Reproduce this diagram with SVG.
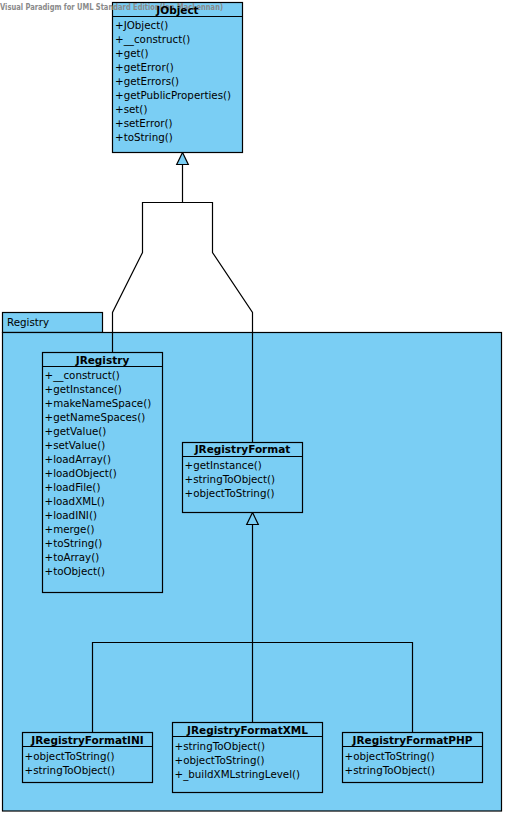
<svg xmlns="http://www.w3.org/2000/svg" width="506" height="816" viewBox="0 0 506 816">
<style>
.box{fill:#7ACEF4;stroke:#000;stroke-width:1.2}
.ln{fill:none;stroke:#000;stroke-width:1.2}
.t{font-family:"DejaVu Sans",sans-serif;font-size:10.3px;fill:#000}
.h{font-family:"DejaVu Sans",sans-serif;font-size:10.5px;font-weight:bold;fill:#000;text-anchor:middle}
.wm{font-family:"DejaVu Sans",sans-serif;font-size:8px;font-weight:bold;fill:#8a8a8a}
.pk{font-family:"DejaVu Sans",sans-serif;font-size:10.3px;fill:#000}
</style>
<defs>
<marker id="gen" markerWidth="14" markerHeight="14" refX="12" refY="6" orient="auto" markerUnits="userSpaceOnUse">
<path d="M12,6 L0,0 L0,12 Z" fill="#7ACEF4" stroke="#000" stroke-width="1.2"/>
</marker>
</defs>

<g id="pkg-registry">
<rect class="box" x="2.5" y="312.5" width="100" height="20"/>
<rect class="box" x="2.5" y="332.5" width="499" height="478.5"/>
<text class="pk" x="7" y="326">Registry</text>
</g>

<g id="connectors">
<polyline class="ln" points="112.5,352.5 112.5,312.5 142.5,252.5 142.5,202.5 182.5,202.5 182.5,164"/>
<polyline class="ln" points="252.5,442.5 252.5,312.5 212.5,252.5 212.5,202.5 182.5,202.5"/>
<path d="M182.5,152.5 L176.7,164.5 L188.3,164.5 Z" fill="#7ACEF4" stroke="#000" stroke-width="1.2"/>
<polyline class="ln" points="92.5,732.5 92.5,642.5 412.5,642.5 412.5,732.5"/>
<line class="ln" x1="252.5" y1="722.5" x2="252.5" y2="524.5"/>
<path d="M252.5,512.5 L246.7,524.5 L258.3,524.5 Z" fill="#7ACEF4" stroke="#000" stroke-width="1.2"/>
</g>

<g id="JObject">
<rect class="box" x="112.5" y="2.5" width="130" height="150"/>
<line class="ln" x1="112.5" y1="16.5" x2="242.5" y2="16.5"/>
<text class="wm" x="0" y="10" textLength="223" lengthAdjust="spacingAndGlyphs">Visual Paradigm for UML Standard Edition(Ian MacLennan)</text>
<text class="h" x="177.5" y="14">JObject</text>
<text class="t" x="115" y="29">+JObject()</text>
<text class="t" x="115" y="43">+__construct()</text>
<text class="t" x="115" y="57">+get()</text>
<text class="t" x="115" y="71">+getError()</text>
<text class="t" x="115" y="85">+getErrors()</text>
<text class="t" x="115" y="99">+getPublicProperties()</text>
<text class="t" x="115" y="113">+set()</text>
<text class="t" x="115" y="127">+setError()</text>
<text class="t" x="115" y="141">+toString()</text>
</g>

<g id="JRegistry">
<rect class="box" x="42.5" y="352.5" width="120" height="240"/>
<line class="ln" x1="42.5" y1="366.5" x2="162.5" y2="366.5"/>
<text class="h" x="102.5" y="364">JRegistry</text>
<text class="t" x="44.5" y="379">+__construct()</text>
<text class="t" x="44.5" y="393">+getInstance()</text>
<text class="t" x="44.5" y="407">+makeNameSpace()</text>
<text class="t" x="44.5" y="421">+getNameSpaces()</text>
<text class="t" x="44.5" y="435">+getValue()</text>
<text class="t" x="44.5" y="449">+setValue()</text>
<text class="t" x="44.5" y="463">+loadArray()</text>
<text class="t" x="44.5" y="477">+loadObject()</text>
<text class="t" x="44.5" y="491">+loadFile()</text>
<text class="t" x="44.5" y="505">+loadXML()</text>
<text class="t" x="44.5" y="519">+loadINI()</text>
<text class="t" x="44.5" y="533">+merge()</text>
<text class="t" x="44.5" y="547">+toString()</text>
<text class="t" x="44.5" y="561">+toArray()</text>
<text class="t" x="44.5" y="575">+toObject()</text>
</g>

<g id="JRegistryFormat">
<rect class="box" x="182.5" y="442.5" width="120" height="70"/>
<line class="ln" x1="182.5" y1="456.5" x2="302.5" y2="456.5"/>
<text class="h" x="242.5" y="453">JRegistryFormat</text>
<text class="t" x="184.5" y="469">+getInstance()</text>
<text class="t" x="184.5" y="483">+stringToObject()</text>
<text class="t" x="184.5" y="497">+objectToString()</text>
</g>

<g id="JRegistryFormatINI">
<rect class="box" x="22.5" y="732.5" width="130" height="50"/>
<line class="ln" x1="22.5" y1="746.5" x2="152.5" y2="746.5"/>
<text class="h" x="87.5" y="743.5">JRegistryFormatINI</text>
<text class="t" x="24.5" y="760">+objectToString()</text>
<text class="t" x="24.5" y="774">+stringToObject()</text>
</g>

<g id="JRegistryFormatXML">
<rect class="box" x="172.5" y="722.5" width="150" height="70"/>
<line class="ln" x1="172.5" y1="736.5" x2="322.5" y2="736.5"/>
<text class="h" x="247.5" y="733.5">JRegistryFormatXML</text>
<text class="t" x="174.5" y="749.5">+stringToObject()</text>
<text class="t" x="174.5" y="763.5">+objectToString()</text>
<text class="t" x="174.5" y="777.5">+_buildXMLstringLevel()</text>
</g>

<g id="JRegistryFormatPHP">
<rect class="box" x="342.5" y="732.5" width="140" height="50"/>
<line class="ln" x1="342.5" y1="746.5" x2="482.5" y2="746.5"/>
<text class="h" x="412.5" y="743.5">JRegistryFormatPHP</text>
<text class="t" x="344.5" y="760">+objectToString()</text>
<text class="t" x="344.5" y="774">+stringToObject()</text>
</g>
</svg>
